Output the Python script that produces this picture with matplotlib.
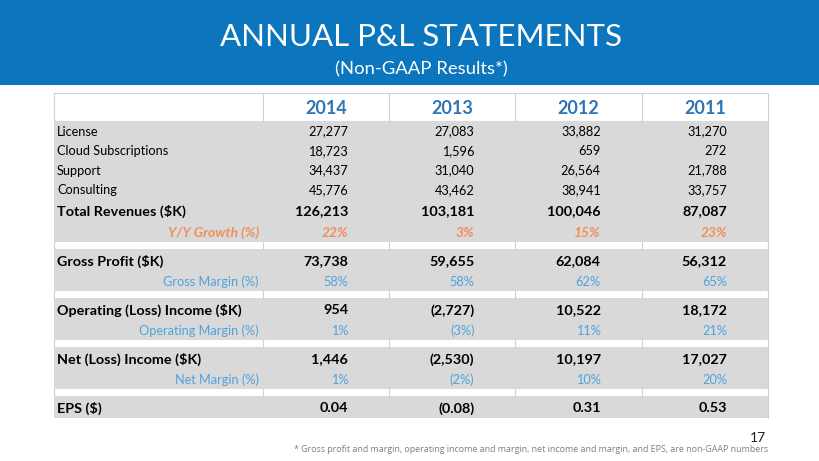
import matplotlib.pyplot as plt
from matplotlib.patches import Rectangle

years = ['2014', '2013', '2012', '2011']

license_k = [27277, 27083, 33882, 31270]
cloud_k = [18723, 1596, 659, 272]
support_k = [34437, 31040, 26564, 21788]
consulting_k = [45776, 43462, 38941, 33757]
total_rev_k = [126213, 103181, 100046, 87087]
yy_growth = [22, 3, 15, 23]
gross_profit_k = [73738, 59655, 62084, 56312]
gross_margin = [58, 58, 62, 65]
op_income_k = [954, -2727, 10522, 18172]
op_margin = [1, -3, 11, 21]
net_income_k = [1446, -2530, 10197, 17027]
net_margin = [1, -2, 10, 20]
eps = [0.04, -0.08, 0.31, 0.53]

BLUE_BAR = '#0B75BD'
GREY = '#D9D9D9'
LINE = '#D0D0D0'
YEAR_BLUE = '#2E75B6'
ORANGE = '#F0905A'
LBLUE = '#4FA3DB'
FONT = 'Lato'


def fmt_num(v):
    s = f'{abs(v):,}'
    return f'({s})' if v < 0 else s


def fmt_pct(v):
    return f'({abs(v)}%)' if v < 0 else f'{v}%'


def fmt_eps(v):
    return f'({abs(v):.2f})' if v < 0 else f'{v:.2f}'


# (label, values, formatter, style)
rows = [
    ('License', license_k, fmt_num, 'plain'),
    ('Cloud Subscriptions', cloud_k, fmt_num, 'plain'),
    ('Support', support_k, fmt_num, 'plain'),
    ('Consulting', consulting_k, fmt_num, 'plain'),
    ('Total Revenues ($K)', total_rev_k, fmt_num, 'bold'),
    ('Y/Y Growth (%)', yy_growth, fmt_pct, 'growth'),
    None,
    ('Gross Profit ($K)', gross_profit_k, fmt_num, 'bold'),
    ('Gross Margin (%)', gross_margin, fmt_pct, 'margin'),
    None,
    ('Operating (Loss) Income ($K)', op_income_k, fmt_num, 'bold'),
    ('Operating Margin (%)', op_margin, fmt_pct, 'margin'),
    None,
    ('Net (Loss) Income ($K)', net_income_k, fmt_num, 'bold'),
    ('Net Margin (%)', net_margin, fmt_pct, 'margin'),
    None,
    ('EPS ($)', eps, fmt_eps, 'bold'),
]

fig = plt.figure(figsize=(8.2, 4.61), dpi=100)
ax = fig.add_axes([0, 0, 1, 1])
ax.set_xlim(0, 820)
ax.set_ylim(461, 0)
ax.axis('off')

# title bar
ax.add_patch(Rectangle((0, 0), 820, 85, color=BLUE_BAR, lw=0))
ax.text(421, 46, 'ANNUAL P&L STATEMENTS', color='white', fontsize=22.5,
        family=FONT, ha='center', va='baseline')
ax.text(421, 74, '(Non-GAAP Results*)', color='white', fontsize=13.3,
        family=FONT, ha='center', va='baseline')

left, first_col, col_w = 54, 263, 126.25
right = first_col + 4 * col_w

# row geometry
heights = {'plain': 19.5, 'bold': 22, 'growth': 21, 'margin': 20, None: 7}
y = 93
ax.add_patch(Rectangle((left, y), right - left, 28, facecolor='white',
                       edgecolor=LINE, lw=0.8))
for i in range(4):
    x0 = first_col + i * col_w
    ax.plot([x0, x0], [y, y + 28], color=LINE, lw=0.8)
    ax.text(x0 + col_w / 2, y + 21, years[i], color=YEAR_BLUE, fontsize=13,
            fontweight='bold', family=FONT, ha='center', va='baseline')
y += 28

for r in rows:
    style = r[3] if r else None
    h = heights[style]
    if r is None:
        for i in range(5):
            x0 = left if i == 0 else first_col + (i - 1) * col_w
            ax.plot([x0, x0], [y, y + h], color=LINE, lw=0.8)
        ax.plot([right, right], [y, y + h], color=LINE, lw=0.8)
        y += h
        continue
    ax.add_patch(Rectangle((left, y), right - left, h, color=GREY, lw=0))
    label, vals, f, _ = r
    if style == 'plain':
        kw = dict(color='black', fontsize=9.2)
    elif style == 'bold':
        kw = dict(color='black', fontsize=10.4, fontweight='bold')
    elif style == 'growth':
        kw = dict(color=ORANGE, fontsize=10, fontweight='bold', style='italic')
    else:
        kw = dict(color=LBLUE, fontsize=9.2)
    base = y + h / 2 + kw['fontsize'] * 0.52
    if style in ('plain', 'bold'):
        ax.text(57, base, label, ha='left', va='baseline', family=FONT, **kw)
    else:
        ax.text(259, base, label, ha='right', va='baseline', family=FONT, **kw)
    for i, v in enumerate(vals):
        x1 = first_col + (i + 1) * col_w - 41
        ax.text(x1, base, f(v), ha='right', va='baseline', family=FONT, **kw)
    y += h

ax.plot([right, right], [121, y], color=LINE, lw=0.8)

ax.text(766, 442, '17', fontsize=10, color='#222222', family=FONT,
        ha='right', va='baseline')
ax.text(768, 452, '* Gross profit and margin, operating income and margin, '
        'net income and margin, and EPS, are non-GAAP numbers',
        fontsize=6.4, color='#7F7F7F', family='Open Sans', ha='right',
        va='baseline')

fig.savefig('out.png', dpi=100)
